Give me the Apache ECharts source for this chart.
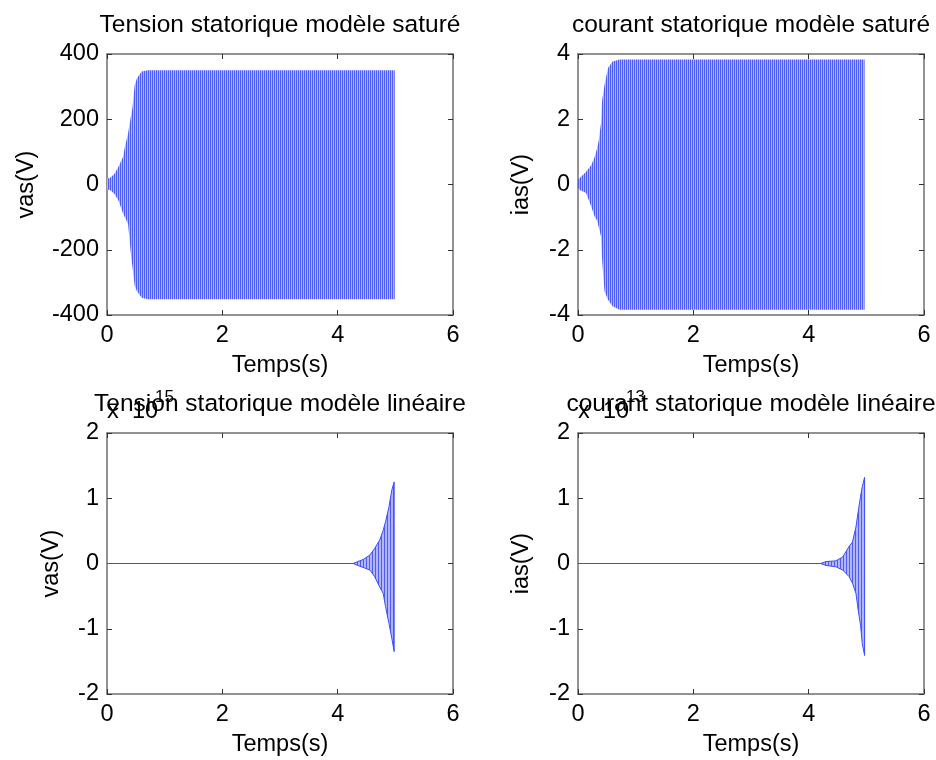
<!DOCTYPE html>
<html>
<head>
<meta charset="utf-8">
<script src="https://cdn.jsdelivr.net/npm/echarts@6/dist/echarts.min.js"></script>
<style>
html,body{margin:0;padding:0;background:#fff;}
#chart{width:936px;height:760px;}
</style>
</head>
<body>
<div id="chart"></div>
<script>
// ---- Data (oscillation envelopes) ----
// Top-left: stator voltage, saturated model (V)
const vasSatTime  = [0, 0.05, 0.13, 0.2, 0.28, 0.31, 0.365, 0.42, 0.44, 0.48, 0.52, 0.6, 0.71, 1.0, 4.99];
const vasSatUpper = [18, 20, 33, 55, 85, 115, 156, 215, 233, 305, 326, 346, 350, 350, 350];
const vasSatLower = [-15, -17, -29, -50, -90, -100, -121, -224, -250, -311, -327, -347, -352, -352, -352];

// Top-right: stator current, saturated model
const iasSatTime  = [0, 0.03, 0.14, 0.23, 0.29, 0.33, 0.36, 0.4, 0.42, 0.46, 0.52, 0.6, 0.72, 4.97];
const iasSatUpper = [0.15, 0.2, 0.39, 0.6, 0.85, 1.1, 1.36, 1.9, 2.6, 3.05, 3.57, 3.77, 3.83, 3.83];
const iasSatLower = [-0.1, -0.17, -0.26, -0.68, -0.99, -1.1, -1.3, -1.6, -2.35, -3.27, -3.53, -3.73, -3.84, -3.84];

// Bottom-left: stator voltage, linear model (x 1e15)
const vasLinTime  = [0, 4.27, 4.35, 4.44, 4.56, 4.64, 4.73, 4.79, 4.83, 4.89, 4.94, 4.98];
const vasLinUpper = [0, 0, 0.03e15, 0.06e15, 0.13e15, 0.23e15, 0.36e15, 0.51e15, 0.64e15, 0.87e15, 1.13e15, 1.25e15];
const vasLinLower = [0, 0, -0.03e15, -0.06e15, -0.10e15, -0.20e15, -0.36e15, -0.46e15, -0.66e15, -0.92e15, -1.15e15, -1.35e15];

// Bottom-right: stator current, linear model (x 1e13)
const iasLinTime  = [0, 4.21, 4.3, 4.47, 4.59, 4.7, 4.76, 4.82, 4.86, 4.9, 4.93, 4.97];
const iasLinUpper = [0, 0, 0.03e13, 0.04e13, 0.1e13, 0.26e13, 0.33e13, 0.56e13, 0.8e13, 1.03e13, 1.18e13, 1.32e13];
const iasLinLower = [0, 0, -0.03e13, -0.05e13, -0.1e13, -0.2e13, -0.3e13, -0.46e13, -0.72e13, -0.95e13, -1.23e13, -1.41e13];

const panelTitles = ['Tension statorique modèle saturé', 'courant statorique modèle saturé',
                     'Tension statorique modèle linéaire', 'courant statorique modèle linéaire'];
const yNames = ['vas(V)', 'ias(V)', 'vas(V)', 'ias(V)'];
const xName = 'Temps(s)';
const exponents = [null, null, '15', '13'];

// ---- Layout / style ----
const FONT = '"Liberation Sans", Arial, Helvetica, sans-serif';
const FS = 23.5;
const grids = [
  {left: 107, top: 54, width: 346, height: 261},
  {left: 578, top: 54, width: 346, height: 261},
  {left: 107, top: 433, width: 346, height: 261},
  {left: 578, top: 433, width: 346, height: 261}
];
const yRanges = [
  {min: -400, max: 400, interval: 200, scale: 1},
  {min: -4, max: 4, interval: 2, scale: 1},
  {min: -2e15, max: 2e15, interval: 1e15, scale: 1e15},
  {min: -2e13, max: 2e13, interval: 1e13, scale: 1e13}
];

function makePattern(colors) {
  const c = document.createElement('canvas');
  c.width = colors.length; c.height = 1;
  const ctx = c.getContext('2d');
  colors.forEach((col, i) => { ctx.fillStyle = col; ctx.fillRect(i, 0, 1, 1); });
  return {image: c, repeat: 'repeat'};
}
const DARK = '#4d5cf2', LIGHT = '#b0b6f9';
const patSat = makePattern([DARK, LIGHT]);
const patLin = makePattern([DARK, LIGHT, LIGHT]);

const frameLine = {show: true, onZero: false, lineStyle: {color: '#6f6f6f', width: 1.5}};
const tick = {show: true, inside: true, length: 5, lineStyle: {color: '#333', width: 1}};

const xAxes = [], yAxes = [];
grids.forEach((g, i) => {
  const r = yRanges[i];
  xAxes.push({gridIndex: i, type: 'value', position: 'bottom', min: 0, max: 6, interval: 2,
    axisLine: frameLine, axisTick: tick, splitLine: {show: false},
    axisLabel: {fontFamily: FONT, fontSize: FS, color: '#000', margin: 9}});
  xAxes.push({gridIndex: i, type: 'value', position: 'top', min: 0, max: 6, interval: 2,
    axisLine: frameLine, axisTick: tick, splitLine: {show: false}, axisLabel: {show: false}});
  yAxes.push({gridIndex: i, type: 'value', position: 'left', min: r.min, max: r.max, interval: r.interval,
    axisLine: frameLine, axisTick: tick, splitLine: {show: false},
    axisLabel: {fontFamily: FONT, fontSize: FS, color: '#000', margin: 8,
      formatter: v => String(Math.round(v / r.scale * 1000) / 1000)}});
  yAxes.push({gridIndex: i, type: 'value', position: 'right', min: r.min, max: r.max, interval: r.interval,
    axisLine: frameLine, axisTick: tick, splitLine: {show: false}, axisLabel: {show: false}});
});

function bandSeries(i, t, up, lo, fill, stroke) {
  return {
    type: 'custom', xAxisIndex: 2 * i, yAxisIndex: 2 * i, silent: true, animation: false,
    data: t.map((x, k) => [x, up[k], lo[k]]),
    encode: {x: 0, y: [1, 2]},
    renderItem: function (params, api) {
      if (params.dataIndex !== 0) return null;
      const pts = [];
      for (let k = 0; k < t.length; k++) pts.push(api.coord([t[k], up[k]]));
      for (let k = t.length - 1; k >= 0; k--) pts.push(api.coord([t[k], lo[k]]));
      return {type: 'polygon', shape: {points: pts},
        style: {fill: fill, stroke: stroke, lineWidth: stroke ? 1 : 0}};
    }
  };
}

const series = [
  bandSeries(0, vasSatTime, vasSatUpper, vasSatLower, patSat, null),
  bandSeries(1, iasSatTime, iasSatUpper, iasSatLower, patSat, null),
  bandSeries(2, vasLinTime, vasLinUpper, vasLinLower, patLin, '#3a4cff'),
  bandSeries(3, iasLinTime, iasLinUpper, iasLinLower, patLin, '#3a4cff')
];

const graphics = [];
grids.forEach((g, i) => {
  const cx = g.left + g.width / 2;
  const row = i < 2 ? 0 : 1;
  graphics.push({type: 'text', x: cx, y: row ? 404 : 25, z: 10,
    style: {text: panelTitles[i], font: '24.5px ' + FONT, fill: '#000', textAlign: 'center', textVerticalAlign: 'middle'}});
  graphics.push({type: 'text', x: cx, y: row ? 745 : 366,
    style: {text: xName, font: FS + 'px ' + FONT, fill: '#000', textAlign: 'center', textVerticalAlign: 'middle'}});
  const yx = [27, 522, 52, 522][i];
  graphics.push({type: 'text', x: yx, y: g.top + g.height / 2, rotation: Math.PI / 2,
    style: {text: yNames[i], font: FS + 'px ' + FONT, fill: '#000', textAlign: 'center', textVerticalAlign: 'middle'}});
  if (exponents[i]) {
    graphics.push({type: 'text', x: g.left, y: 412,
      style: {text: 'x', font: FS + 'px ' + FONT, fill: '#000', textAlign: 'left', textVerticalAlign: 'middle'}});
    graphics.push({type: 'text', x: g.left + 25, y: 412,
      style: {text: '10', font: FS + 'px ' + FONT, fill: '#000', textAlign: 'left', textVerticalAlign: 'middle'}});
    graphics.push({type: 'text', x: g.left + 48, y: 397,
      style: {text: exponents[i], font: '17px ' + FONT, fill: '#000', textAlign: 'left', textVerticalAlign: 'middle'}});
  }
});

const chart = echarts.init(document.getElementById('chart'), null, {renderer: 'canvas'});
chart.setOption({
  animation: false,
  backgroundColor: '#fff',
  grid: grids.map(g => Object.assign({containLabel: false}, g)),
  xAxis: xAxes,
  yAxis: yAxes,
  series: series,
  graphic: graphics
});
</script>
</body>
</html>
